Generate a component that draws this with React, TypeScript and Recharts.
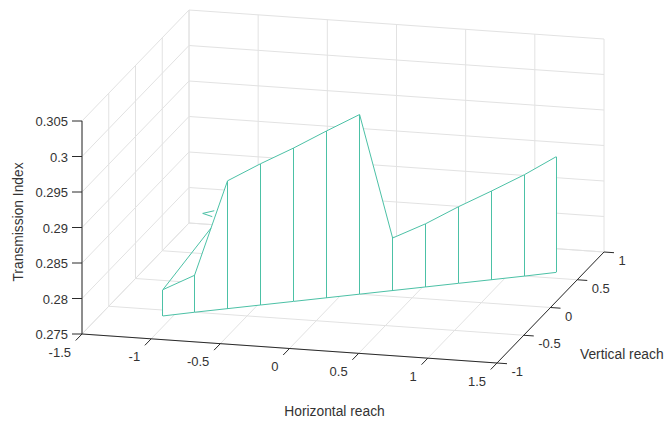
import { Area, ComposedChart, Line, Scatter, XAxis, YAxis } from "recharts";

// axis ticks of the 3-D box
const xTicks = [-1.5, -1, -0.5, 0, 0.5, 1, 1.5];
const yTicks = [-1, -0.5, 0, 0.5, 1];
const zTicks = [0.275, 0.28, 0.285, 0.29, 0.295, 0.3, 0.305];

// fence data: horizontal reach, vertical reach, transmission index
const reachX = [-1.07, -0.88, -0.68, -0.48, -0.28, -0.08, 0.12, 0.32, 0.52, 0.72, 0.92, 1.12, 1.31];
const reachY = [-0.6, -0.5, -0.4, -0.3, -0.2, -0.1, 0, 0.1, 0.2, 0.3, 0.4, 0.5, 0.6];
const transmission = [0.2787, 0.2802, 0.293, 0.2949, 0.2966, 0.2985, 0.3003, 0.2824, 0.2839, 0.2858, 0.2875, 0.2893, 0.2913];

// small fold of the patch edge near the left end
const foldX = [-0.78, -0.83, -0.76, -0.772];
const foldY = [-0.451, -0.476, -0.441, -0.447];
const foldZ = [0.2866, 0.2888, 0.289, 0.2882];

const W = 665;
const H = 421;
const X_MIN = -1.5, X_MAX = 1.5;
const Y_MIN = -1, Y_MAX = 1;
const Z_MIN = 0.275, Z_MAX = 0.305;

// view: where the front-left-bottom corner lands and how each full axis span is seen
const ORIGIN = { sx: 82, sy: 334 };
const EX = { sx: 415, sy: 29 };
const EY = { sx: 107, sy: -111 };
const EZ = { sx: 0, sy: -213 };

const LINE = "#4cc1a6";
const GRID = "#e2e2e2";
const AXIS = "#2b2b2b";
const TEXT = "#333333";
const FONT = "'Liberation Sans', Arial, Helvetica, sans-serif";

type Pt = { sx: number; sy: number };

function project(x: number, y: number, z: number): Pt {
  const u = (x - X_MIN) / (X_MAX - X_MIN);
  const v = (y - Y_MIN) / (Y_MAX - Y_MIN);
  const w = (z - Z_MIN) / (Z_MAX - Z_MIN);
  return {
    sx: ORIGIN.sx + u * EX.sx + v * EY.sx + w * EZ.sx,
    sy: ORIGIN.sy + u * EX.sy + v * EY.sy + w * EZ.sy,
  };
}

const shift = (p: Pt, dx: number, dy: number): Pt => ({ sx: p.sx + dx, sy: p.sy + dy });

const gridSegs: Pt[][] = [];
// back wall
xTicks.forEach((x) => gridSegs.push([project(x, Y_MAX, Z_MIN), project(x, Y_MAX, Z_MAX)]));
zTicks.forEach((z) => gridSegs.push([project(X_MIN, Y_MAX, z), project(X_MAX, Y_MAX, z)]));
// left wall
yTicks.forEach((y) => gridSegs.push([project(X_MIN, y, Z_MIN), project(X_MIN, y, Z_MAX)]));
zTicks.forEach((z) => gridSegs.push([project(X_MIN, Y_MIN, z), project(X_MIN, Y_MAX, z)]));
// floor
xTicks.forEach((x) => gridSegs.push([project(x, Y_MIN, Z_MIN), project(x, Y_MAX, Z_MIN)]));
yTicks.forEach((y) => gridSegs.push([project(X_MIN, y, Z_MIN), project(X_MAX, y, Z_MIN)]));

const axisSegs: Pt[][] = [
  [project(X_MIN, Y_MIN, Z_MIN), project(X_MIN, Y_MIN, Z_MAX)],
  [project(X_MIN, Y_MIN, Z_MIN), project(X_MAX, Y_MIN, Z_MIN)],
  [project(X_MAX, Y_MIN, Z_MIN), project(X_MAX, Y_MAX, Z_MIN)],
];
zTicks.forEach((z) => {
  const p = project(X_MIN, Y_MIN, z);
  axisSegs.push([p, shift(p, -10, 0)]);
});
xTicks.forEach((x) => {
  const p = project(x, Y_MIN, Z_MIN);
  axisSegs.push([p, shift(p, -6.3, 6.5)]);
});
yTicks.forEach((y) => {
  const p = project(X_MAX, y, Z_MIN);
  axisSegs.push([p, shift(p, 10, 0.7)]);
});

const topPts = reachX.map((x, i) => project(x, reachY[i], transmission[i]));
const basePts = reachX.map((x, i) => project(x, reachY[i], Z_MIN));
const fillData = topPts.map((p, i) => ({ sx: p.sx, band: [basePts[i].sy, p.sy] }));
const stems = topPts.map((p, i) => [basePts[i], p]);
const foldPts = foldX.map((x, i) => project(x, foldY[i], foldZ[i]));
const foldSegs: Pt[][] = [
  [topPts[0], foldPts[0]],
  [foldPts[2], foldPts[1], foldPts[3]],
];

type Label = Pt & { text: string };
const zLabels: Label[] = zTicks.map((z) => ({ ...project(X_MIN, Y_MIN, z), text: String(z) }));
const xLabels: Label[] = xTicks.map((x) => ({ ...project(x, Y_MIN, Z_MIN), text: String(x) }));
const yLabels: Label[] = yTicks.map((y) => ({ ...project(X_MAX, y, Z_MIN), text: String(y) }));

const labelShape =
  (anchor: "start" | "middle" | "end", dx: number, dy: number, size = 13, rotate = 0) =>
  (props: any) => {
    const x = props.cx + dx;
    const y = props.cy + dy;
    return (
      <text
        x={x}
        y={y}
        textAnchor={anchor}
        dominantBaseline="central"
        fontSize={size}
        fontFamily={FONT}
        fill={TEXT}
        transform={rotate ? `rotate(${rotate} ${x} ${y})` : undefined}
      >
        {props.payload.text}
      </text>
    );
  };

function seg(key: string, pts: Pt[], stroke: string, z = 400, crisp = false) {
  return (
    <Line
      key={key}
      data={pts}
      dataKey="sy"
      type="linear"
      stroke={stroke}
      strokeWidth={1}
      dot={false}
      activeDot={false}
      legendType="none"
      zIndex={z}
      shapeRendering={crisp ? "crispEdges" : undefined}
      isAnimationActive={false}
    />
  );
}

export default function App() {
  return (
    <div style={{ position: "absolute", left: 0, top: 0, width: W, height: H, background: "#fff" }}>
      <ComposedChart width={W} height={H} margin={{ top: 0, right: 0, bottom: 0, left: 0 }}>
        <XAxis type="number" dataKey="sx" domain={[0, W]} allowDataOverflow hide />
        <YAxis type="number" dataKey="sy" domain={[0, H]} reversed allowDataOverflow hide />

        {gridSegs.map((s, i) => seg(`g${i}`, s, GRID, 400))}
        {axisSegs.map((s, i) => seg(`a${i}`, s, AXIS, 410))}

        <Area
          data={fillData}
          dataKey="band"
          type="linear"
          stroke="none"
          fill="#ffffff"
          fillOpacity={1}
          zIndex={450}
          isAnimationActive={false}
        />
        {seg("top", topPts, LINE, 460)}
        {seg("base", basePts, LINE, 460)}
        {stems.map((s, i) => seg(`s${i}`, s, LINE, 460, true))}
        {foldSegs.map((s, i) => seg(`f${i}`, s, LINE, 460))}

        <Scatter data={zLabels} shape={labelShape("end", -14, 0.5)} isAnimationActive={false} />
        <Scatter data={xLabels} shape={labelShape("end", -11, 18)} isAnimationActive={false} />
        <Scatter data={yLabels} shape={labelShape("start", 14.5, 8.6)} isAnimationActive={false} />
        <Scatter
          data={[{ sx: 18, sy: 222, text: "Transmission Index" }]}
          shape={labelShape("middle", 0, 0, 13.8, -90)}
          isAnimationActive={false}
        />
        <Scatter
          data={[{ sx: 334.5, sy: 411, text: "Horizontal reach" }]}
          shape={labelShape("middle", 0, 0, 13.8)}
          isAnimationActive={false}
        />
        <Scatter
          data={[{ sx: 580, sy: 354, text: "Vertical reach" }]}
          shape={labelShape("start", 0, 0, 13.8)}
          isAnimationActive={false}
        />
      </ComposedChart>
    </div>
  );
}
